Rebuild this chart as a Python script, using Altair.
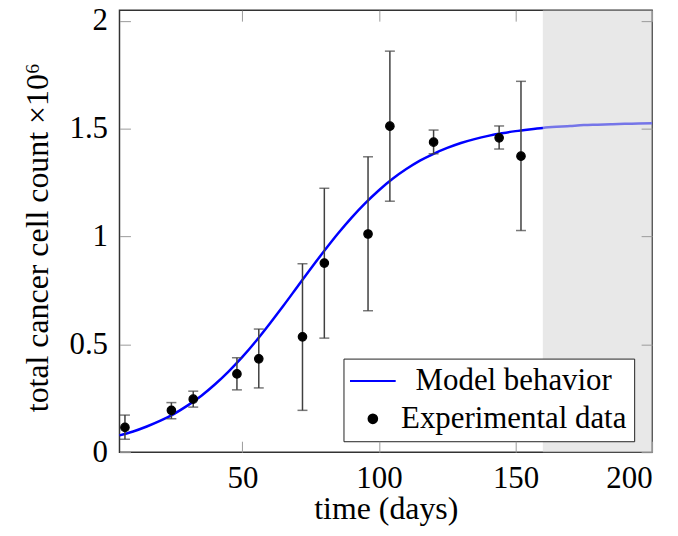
import altair as alt
import pandas as pd

# ---- data ----
days = [7, 24, 32, 48, 56, 72, 80, 96, 104, 120, 144, 152]
cells = [0.115, 0.194, 0.246, 0.363, 0.433, 0.535, 0.877, 1.012, 1.512, 1.438, 1.458, 1.373]
err_low = [0.060, 0.155, 0.209, 0.289, 0.298, 0.194, 0.529, 0.656, 1.164, 1.384, 1.406, 1.028]
err_high = [0.172, 0.230, 0.283, 0.438, 0.571, 0.874, 1.224, 1.370, 1.860, 1.494, 1.513, 1.720]

model_days = [5, 10, 15, 20, 25, 30, 35, 40, 45, 50, 55, 60, 65, 70, 75, 80, 85, 90, 95, 100,
              105, 110, 115, 120, 125, 130, 135, 140, 145, 150, 155, 160, 165, 170, 175, 180,
              185, 190, 195, 200]
model_cells = [0.078, 0.096, 0.119, 0.146, 0.178, 0.217, 0.262, 0.315, 0.375, 0.442,
               0.516, 0.596, 0.679, 0.765, 0.851, 0.934, 1.014, 1.088, 1.155, 1.215,
               1.268, 1.313, 1.352, 1.384, 1.411, 1.434, 1.452, 1.467, 1.479, 1.489,
               1.497, 1.504, 1.509, 1.513, 1.517, 1.519, 1.521, 1.523, 1.524, 1.526]

shade_start = [160]
shade_end = [200]

x_ticks = [50, 100, 150, 200]
y_ticks = [0, 0.5, 1, 1.5, 2]
series_names = ["Model behavior", "Experimental data"]

# ---- tables ----
pts = pd.DataFrame({"day": days, "cells": cells, "low": err_low, "high": err_high,
                    "series": ["Experimental data"] * len(days)})
model = pd.DataFrame({"day": model_days, "cells": model_cells})
shade = pd.DataFrame({"start": shade_start, "end": shade_end})

W, H = 535, 444
FONT = "Liberation Serif"
FS_TICK = 31
FS_TITLE = 32
FS_LEG = 31

xs = alt.Scale(domain=[5, 200], nice=False, zero=False)
ys = alt.Scale(domain=[0, 2.05], nice=False, zero=False)


def tick_axis(orient, vals, offset):
    return alt.Axis(orient=orient, values=vals, offset=offset, labels=False, ticks=True,
                    tickSize=11, tickColor="#9a9a9a", tickWidth=1, domain=False,
                    grid=False, title=None, zindex=2)


x_label_axis = alt.Axis(orient="bottom", values=x_ticks, ticks=False, domain=False, grid=False,
                        labelFont=FONT, labelFontSize=FS_TICK, labelColor="black",
                        labelBaseline="alphabetic", labelPadding=35,
                        title="time (days)", titleFont=FONT, titleFontSize=FS_TITLE,
                        titleFontWeight="normal", titleColor="black",
                        titleBaseline="alphabetic", titleY=67)
y_label_axis = alt.Axis(orient="left", values=y_ticks, ticks=False, domain=False, grid=False,
                        format="~g", labelFont=FONT, labelFontSize=FS_TICK, labelColor="black",
                        labelPadding=12,
                        title="total cancer cell count \u00d710\u2076", titleFont=FONT,
                        titleFontSize=FS_TITLE, titleFontWeight="normal", titleColor="black",
                        titleAngle=270, titleBaseline="alphabetic", titleX=-72, titleY=228)

line = alt.Chart(model).mark_line(color="#0000ff", strokeWidth=2.5, interpolate="monotone").encode(
    x=alt.X("day:Q", scale=xs, axis=tick_axis("top", x_ticks, -H)),
    y=alt.Y("cells:Q", scale=ys, axis=tick_axis("right", y_ticks, -W)),
)

shade_rect = alt.Chart(shade).mark_rect(color="#d6d6d6", opacity=0.55).encode(
    x=alt.X("start:Q", scale=xs, axis=None),
    x2="end:Q",
)

err = alt.Chart(pts).mark_rule(color="#404040", strokeWidth=1.5).encode(
    x=alt.X("day:Q", scale=xs, axis=tick_axis("bottom", x_ticks, -H)),
    y=alt.Y("low:Q", scale=ys, axis=tick_axis("left", y_ticks, -W)),
    y2="high:Q",
)
cap_lo = alt.Chart(pts).mark_tick(color="#404040", orient="horizontal", size=10, thickness=1.5).encode(
    x=alt.X("day:Q", scale=xs, axis=None),
    y=alt.Y("low:Q", scale=ys, axis=None),
)
cap_hi = alt.Chart(pts).mark_tick(color="#404040", orient="horizontal", size=10, thickness=1.5).encode(
    x=alt.X("day:Q", scale=xs, axis=None),
    y=alt.Y("high:Q", scale=ys, axis=None),
)

legend = alt.Legend(title=None, orient="none", legendX=225, legendY=350,
                    labelFont=FONT, labelFontSize=FS_LEG,
                    labelColor="black", labelAlign="center", labelOffset=126, labelLimit=500,
                    padding=7, strokeColor="#222222", fillColor="white", symbolOffset=7,
                    symbolStrokeWidth=2.2, symbolOpacity=1, rowPadding=6)

line_symbol = "M-1.78,0L1.78,0"
points = alt.Chart(pts).mark_point(filled=True, opacity=1, strokeWidth=1.2).encode(
    x=alt.X("day:Q", scale=xs, axis=x_label_axis),
    y=alt.Y("cells:Q", scale=ys, axis=y_label_axis),
    fill=alt.Fill("series:N", scale=alt.Scale(domain=series_names, range=["#0000ff", "#000000"]), legend=legend),
    stroke=alt.Stroke("series:N", scale=alt.Scale(domain=series_names, range=["#0000ff", "#000000"]), legend=legend),
    shape=alt.Shape("series:N", scale=alt.Scale(domain=series_names, range=[line_symbol, "circle"]), legend=legend),
    size=alt.Size("series:N", scale=alt.Scale(domain=series_names, range=[665, 72]), legend=legend),
)

chart = alt.layer(line, shade_rect, err, cap_lo, cap_hi, points).resolve_axis(
    x="independent", y="independent"
).properties(
    width=W, height=H,
    autosize=alt.AutoSizeParams(type="none"),
    padding={"left": 112, "top": 1, "right": 18, "bottom": 80},
).configure_view(stroke="#333333", strokeWidth=1.5)

chart.save("out.html", embed_options={"renderer": "svg", "actions": False})
